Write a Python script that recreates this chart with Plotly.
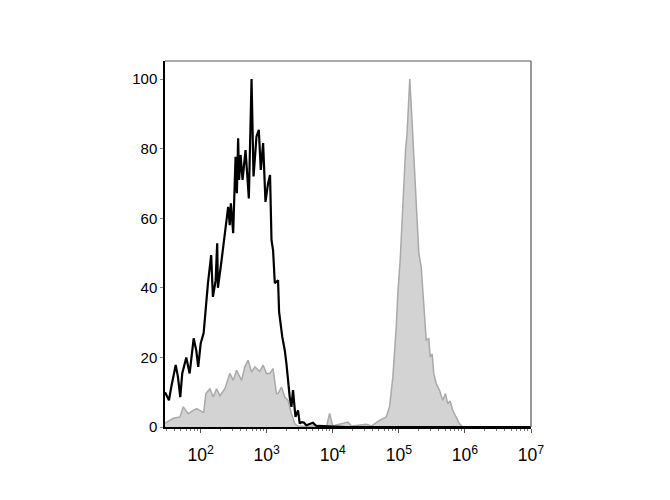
import plotly.graph_objects as go

# Black (control) histogram: log10 intensity, % of max
ctrl_exp = [1.46, 1.52, 1.555, 1.622, 1.656, 1.691, 1.721, 1.782, 1.833, 1.894, 1.933, 1.963,
            2.0, 2.045, 2.110, 2.159, 2.185, 2.226, 2.25, 2.261, 2.31, 2.362, 2.416, 2.44,
            2.457, 2.492, 2.528, 2.548, 2.567, 2.582, 2.604, 2.634, 2.679, 2.729, 2.770,
            2.800, 2.845, 2.880, 2.910, 2.945, 2.981, 3.020, 3.050, 3.072, 3.096, 3.122,
            3.171, 3.187, 3.235, 3.273, 3.298, 3.348, 3.374, 3.398, 3.434, 3.474, 3.499,
            3.525, 3.56, 3.600, 3.70, 3.752, 3.9, 4.2, 7.0]
ctrl_val = [10, 7.7, 11.5, 17.8, 14.4, 8.6, 15.4, 20, 15.4, 25.5, 22, 17.3,
            24, 27, 41.3, 49.4, 37.4, 42, 52.8, 40, 47, 54.7, 63.3, 58,
            64.3, 55.7, 77.7, 67.2, 83, 71, 78.2, 71, 79.6, 65.7, 100,
            72, 83.5, 85.4, 73.9, 81.6, 64.7, 70, 72.4, 53.7, 50.8, 41.3,
            42.2, 33.1, 25.9, 22, 18.2, 8.6, 5.8, 10.6, 2.9, 4.8, 1,
            1.4, 1.3, 0.5, 1.2, 0.3, 0.2, 0, 0]

# Grey (stained) histogram
stain_exp = [1.46, 1.486, 1.585, 1.687, 1.736, 1.812, 1.887, 1.939, 2.014, 2.045, 2.079, 2.140,
             2.190, 2.241, 2.291, 2.366, 2.442, 2.492, 2.543, 2.619, 2.668, 2.718, 2.770,
             2.820, 2.895, 2.945, 2.996, 3.046, 3.096, 3.147, 3.171, 3.223, 3.273, 3.322,
             3.374, 3.424, 3.47, 3.65, 3.80, 3.907, 3.952, 3.998, 4.229, 4.285, 4.507,
             4.587, 4.708, 4.809, 4.859, 4.909, 4.960, 4.984, 5.020, 5.060, 5.101, 5.123,
             5.146, 5.165, 5.191, 5.211, 5.237, 5.262, 5.302, 5.338, 5.388, 5.414, 5.453,
             5.474, 5.504, 5.528, 5.565, 5.614, 5.664, 5.705, 5.740, 5.776, 5.815, 5.866,
             5.916, 5.966, 7.0]
stain_val = [1.0, 1.4, 2.5, 2.9, 5.8, 3.8, 4.8, 5.3, 4.5, 4.2, 9.6, 11,
             8.6, 11, 9, 11, 15.4, 13.4, 16.3, 13.4, 17.3, 19.2, 15.8,
             17.3, 16, 17.8, 15.4, 15.4, 16.8, 9.6, 9.6, 11.5, 8.6, 7.7,
             3.8, 1, 0.3, 0.2, 0.5, 0.3, 3.9, 0.3, 1.4, 0.3, 0.8,
             0.3, 1.9, 2.9, 5.8, 14.4, 28.8, 38.4, 48, 66, 79.6, 84,
             92, 100, 91, 83.5, 77, 64.3, 50, 46, 31.7, 25, 25.4,
             20.1, 21, 15.4, 12.5, 10.6, 7.7, 9.6, 6.7, 7.5, 4.8, 2.9,
             1, 0, 0]

y_ticks = [0, 20, 40, 60, 80, 100]

ctrl_x = [10 ** e for e in ctrl_exp]
stain_x = [10 ** e for e in stain_exp]

fig = go.Figure()
fig.add_trace(go.Scatter(x=stain_x, y=stain_val, mode="lines", fill="tozeroy",
                         line=dict(color="#a9a9a9", width=1.5), fillcolor="#d3d3d3",
                         hoverinfo="skip"))
fig.add_trace(go.Scatter(x=ctrl_x, y=ctrl_val, mode="lines",
                         line=dict(color="#000000", width=2.2), hoverinfo="skip"))

fig.update_layout(
    width=662, height=492,
    margin=dict(l=157, r=139, t=53, b=73),
    paper_bgcolor="white", plot_bgcolor="white",
    showlegend=False,
    font=dict(family="Liberation Sans, Arial, sans-serif", size=14, color="black"),
    shapes=[
        dict(type="line", xref="paper", yref="paper", x0=0, x1=1, y0=1, y1=1,
             line=dict(color="#555555", width=1)),
        dict(type="line", xref="paper", yref="paper", x0=1, x1=1, y0=0, y1=1,
             line=dict(color="#777777", width=1.5)),
    ],
)
fig.update_xaxes(type="log", range=[1.46, 7.0], dtick=1, exponentformat="power",
                 showgrid=False, zeroline=False, showline=True, linecolor="black", linewidth=2,
                 ticks="outside", ticklen=4, tickcolor="#555555", ticklabelstandoff=8,
                 tickfont=dict(size=14),
                 minor=dict(ticks="outside", ticklen=2, tickcolor="#777777", dtick="D1", showgrid=False))
fig.update_yaxes(range=[0, 105.2], tickvals=y_ticks, showgrid=False, zeroline=False,
                 showline=True, linecolor="black", linewidth=1.5,
                 ticks="outside", ticklen=3, tickcolor="#888888", tickfont=dict(size=15))

fig.write_html("out.html")
